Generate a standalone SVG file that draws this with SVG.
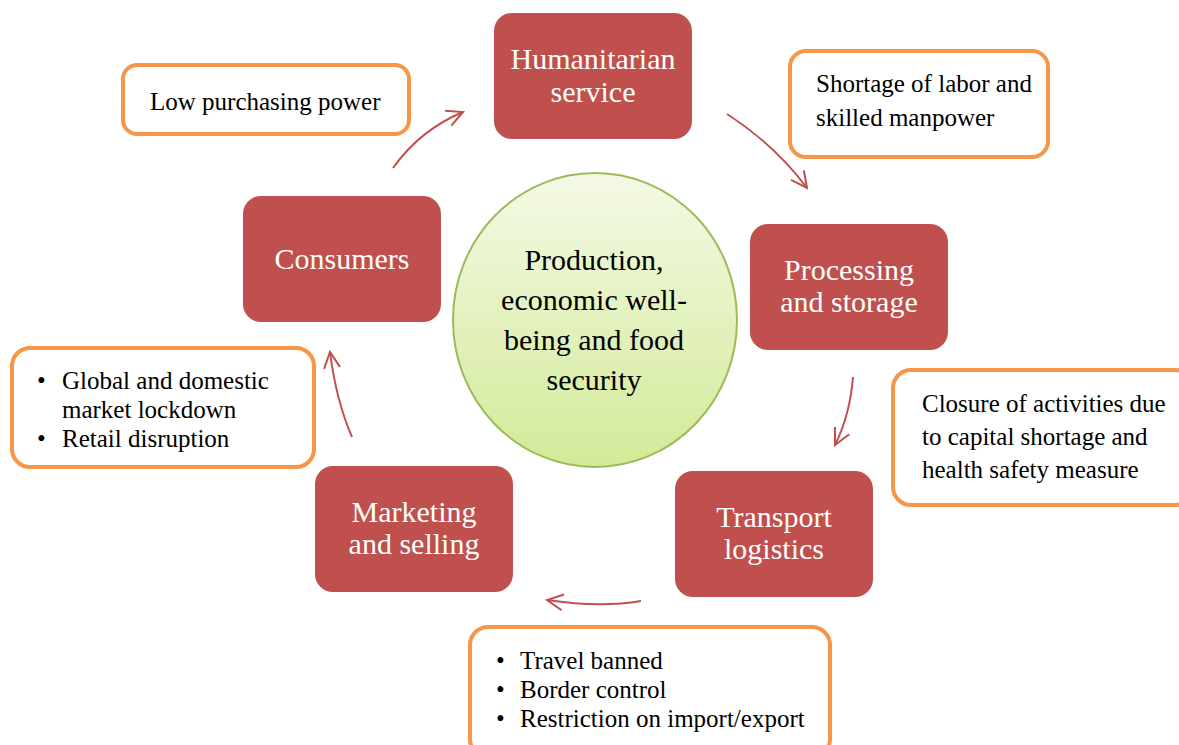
<svg xmlns="http://www.w3.org/2000/svg" width="1179" height="745" viewBox="0 0 1179 745">
<defs>
<linearGradient id="g" x1="0" y1="0" x2="0" y2="1">
<stop offset="0" stop-color="#f4f9e6"/>
<stop offset="1" stop-color="#d3ea98"/>
</linearGradient>
<marker id="ah" viewBox="0 0 20 20" refX="18" refY="10" markerWidth="20" markerHeight="20" markerUnits="userSpaceOnUse" orient="auto">
<path d="M2,2 L18,10 L2,18" fill="none" stroke="#c0504d" stroke-width="2"/>
</marker>
<style>
.red{fill:#c0504d;}
.rt{font-family:"Liberation Serif",serif;font-size:30px;fill:#fff;text-anchor:middle;}
.ob{fill:#fff;stroke:#f79646;stroke-width:4;}
.ot{font-family:"Liberation Serif",serif;font-size:25px;fill:#000;}
.ct{font-family:"Liberation Serif",serif;font-size:30px;fill:#000;text-anchor:middle;}
.c{fill:none;stroke:#c0504d;stroke-width:2;marker-end:url(#ah);}
</style>
</defs>
<rect width="1179" height="745" fill="#fff"/>
<g id="center">
<ellipse cx="595" cy="320" rx="142" ry="147" fill="url(#g)" stroke="#9bbb59" stroke-width="2"/>
<text class="ct" x="594" y="270">Production,</text>
<text class="ct" x="594" y="310">economic well-</text>
<text class="ct" x="594" y="350">being and food</text>
<text class="ct" x="594" y="390">security</text>
</g>
<g id="humanitarian">
<rect class="red" x="494" y="13" width="198" height="126" rx="18"/>
<text class="rt" x="593" y="69">Humanitarian</text>
<text class="rt" x="593" y="102">service</text>
</g>
<g id="processing">
<rect class="red" x="750" y="224" width="198" height="126" rx="18"/>
<text class="rt" x="849" y="280">Processing</text>
<text class="rt" x="849" y="312">and storage</text>
</g>
<g id="transport">
<rect class="red" x="675" y="471" width="198" height="126" rx="18"/>
<text class="rt" x="774" y="527">Transport</text>
<text class="rt" x="774" y="559">logistics</text>
</g>
<g id="marketing">
<rect class="red" x="315" y="466" width="198" height="126" rx="18"/>
<text class="rt" x="414" y="522">Marketing</text>
<text class="rt" x="414" y="554">and selling</text>
</g>
<g id="consumers">
<rect class="red" x="243" y="196" width="198" height="126" rx="18"/>
<text class="rt" x="342" y="269">Consumers</text>
</g>
<g id="lowpurchasing">
<rect class="ob" x="123" y="65" width="286" height="69" rx="14"/>
<text class="ot" x="150" y="110">Low purchasing power</text>
</g>
<g id="shortage">
<rect class="ob" x="790" y="51" width="258" height="106" rx="16"/>
<text class="ot" x="816" y="92">Shortage of labor and</text>
<text class="ot" x="816" y="126">skilled manpower</text>
</g>
<g id="closure">
<rect class="ob" x="893" y="370" width="300" height="135" rx="18"/>
<text class="ot" x="922" y="412">Closure of activities due</text>
<text class="ot" x="922" y="445">to capital shortage and</text>
<text class="ot" x="922" y="478">health safety measure</text>
</g>
<g id="global">
<rect class="ob" x="12" y="348" width="302" height="119" rx="18"/>
<text class="ot" x="37" y="389">•</text><text class="ot" x="62" y="389">Global and domestic</text>
<text class="ot" x="62" y="418">market lockdown</text>
<text class="ot" x="37" y="447">•</text><text class="ot" x="62" y="447">Retail disruption</text>
</g>
<g id="travel">
<rect class="ob" x="470" y="627" width="360" height="130" rx="18"/>
<text class="ot" x="496" y="669">•</text><text class="ot" x="520" y="669">Travel banned</text>
<text class="ot" x="496" y="698">•</text><text class="ot" x="520" y="698">Border control</text>
<text class="ot" x="496" y="727">•</text><text class="ot" x="520" y="727">Restriction on import/export</text>
</g>
<g id="connectors">
<path class="c" d="M393,168 Q420,130 463,112"/>
<path class="c" d="M727,114 Q775,145 807,188"/>
<path class="c" d="M853,377 Q850,415 835,445"/>
<path class="c" d="M641,601 Q600,608 547,600"/>
<path class="c" d="M352,437 Q336,400 330,352"/>
</g>
</svg>
